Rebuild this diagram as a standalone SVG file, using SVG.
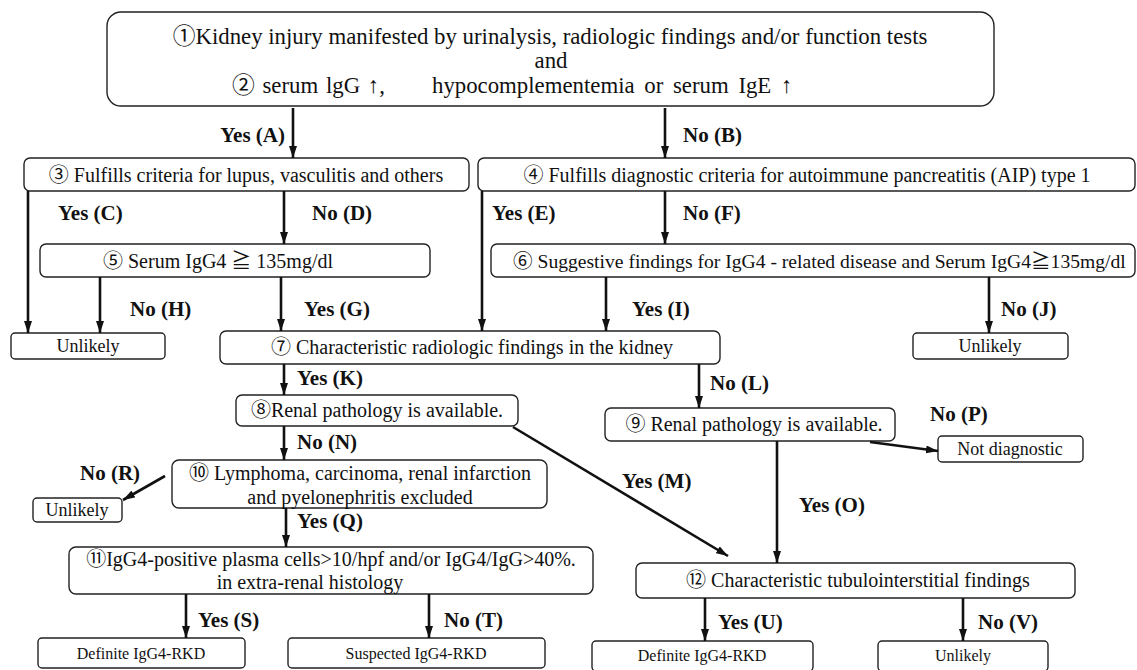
<svg xmlns="http://www.w3.org/2000/svg" width="1137" height="670" viewBox="0 0 1137 670">
<defs>
<style>
.box{fill:#fff;stroke:#222;stroke-width:1.4}
.t{font-family:"Liberation Serif","Noto Sans CJK JP",serif;font-size:20px;fill:#111}
.c{text-anchor:middle}
.big{font-size:22.8px}
.s18{font-size:18px}
.s16{font-size:16px}
.lbl{font-family:"Liberation Serif",serif;font-size:21px;font-weight:bold;fill:#111}
.ln{stroke:#111;stroke-width:2.6;fill:none;marker-end:url(#ah)}
</style>
<marker id="ah" viewBox="0 0 12 8" markerWidth="12" markerHeight="8" refX="12" refY="4" orient="auto" markerUnits="userSpaceOnUse">
<path d="M0,0 L12,4 L0,8 z" fill="#111"/>
</marker>
</defs>
<rect width="1137" height="670" fill="#fff"/>

<g id="n1">
<rect class="box" x="107" y="12" width="887" height="94" rx="14"/>
<text class="t c big" x="550" y="44">①Kidney injury manifested by urinalysis, radiologic findings and/or function tests</text>
<text class="t c big" x="551" y="68">and</text>
<text class="t big" y="93"><tspan x="232" word-spacing="2">② serum lgG ↑,</tspan><tspan x="432" word-spacing="4">hypocomplementemia or serum IgE ↑</tspan></text>
</g>
<g id="n3">
<rect class="box" x="24" y="158" width="445" height="33" rx="6"/>
<text class="t c" x="246" y="182">③ Fulfills criteria for lupus, vasculitis and others</text>
</g>
<g id="n4">
<rect class="box" x="478" y="158" width="657" height="33" rx="6"/>
<text class="t c" x="807" y="182">④ Fulfills diagnostic criteria for autoimmune pancreatitis (AIP) type 1</text>
</g>
<g id="n5">
<rect class="box" x="40" y="244" width="390" height="33" rx="6"/>
<text class="t c" x="218" y="268">⑤ Serum IgG4 ≧ 135mg/dl</text>
</g>
<g id="n6">
<rect class="box" x="491" y="244" width="644" height="33" rx="6"/>
<text class="t" x="513" y="268" style="font-size:19.6px">⑥ Suggestive findings for IgG4 - related disease and Serum IgG4≧135mg/dl</text>
</g>
<g id="unlikely1">
<rect class="box" x="11" y="333" width="154" height="26" rx="4"/>
<text class="t c s18" x="88" y="352">Unlikely</text>
</g>
<g id="n7">
<rect class="box" x="220" y="331" width="500" height="33" rx="6"/>
<text class="t c" x="472" y="354">⑦ Characteristic radiologic findings in the kidney</text>
</g>
<g id="unlikely2">
<rect class="box" x="913" y="333" width="155" height="26" rx="4"/>
<text class="t c s18" x="990" y="352">Unlikely</text>
</g>
<g id="n8">
<rect class="box" x="236" y="395" width="282" height="31" rx="6"/>
<text class="t c" x="377" y="417">⑧Renal pathology is available.</text>
</g>
<g id="n9">
<rect class="box" x="605" y="408" width="290" height="33" rx="6"/>
<text class="t c" x="754" y="431">⑨ Renal pathology is available.</text>
</g>
<g id="notdiag">
<rect class="box" x="938" y="436" width="145" height="26" rx="4"/>
<text class="t c s18" x="1010" y="455">Not diagnostic</text>
</g>
<g id="n10">
<rect class="box" x="172" y="460" width="375" height="48" rx="7"/>
<text class="t c" x="360" y="480">⑩ Lymphoma, carcinoma, renal infarction</text>
<text class="t c" x="360" y="504">and pyelonephritis excluded</text>
</g>
<g id="unlikely3">
<rect class="box" x="33" y="498" width="89" height="24" rx="4"/>
<text class="t c s18" x="77" y="516">Unlikely</text>
</g>
<g id="n11">
<rect class="box" x="69" y="547" width="524" height="47" rx="7"/>
<text class="t c" x="331" y="566">⑪IgG4-positive plasma cells&gt;10/hpf and/or IgG4/IgG&gt;40%.</text>
<text class="t c" x="310" y="589">in extra-renal histology</text>
</g>
<g id="n12">
<rect class="box" x="636" y="563" width="439" height="35" rx="6"/>
<text class="t c" x="858" y="587">⑫ Characteristic tubulointerstitial findings</text>
</g>
<g id="definite1">
<rect class="box" x="38" y="638" width="207" height="30" rx="4"/>
<text class="t c s16" x="141" y="659">Definite IgG4-RKD</text>
</g>
<g id="suspected">
<rect class="box" x="288" y="638" width="257" height="30" rx="4"/>
<text class="t c s16" x="416" y="659">Suspected IgG4-RKD</text>
</g>
<g id="definite2">
<rect class="box" x="592" y="641" width="221" height="30" rx="4"/>
<text class="t c s16" x="702" y="661">Definite IgG4-RKD</text>
</g>
<g id="unlikely4">
<rect class="box" x="878" y="641" width="170" height="30" rx="4"/>
<text class="t c s16" x="963" y="661">Unlikely</text>
</g>

<g id="connectors">
<line class="ln" x1="293" y1="108" x2="293" y2="158"/>
<text class="lbl" x="285" y="142" text-anchor="end">Yes (A)</text>
<line class="ln" x1="665" y1="108" x2="665" y2="158"/>
<text class="lbl" x="683" y="142">No (B)</text>
<line class="ln" x1="28" y1="191" x2="28" y2="333"/>
<text class="lbl" x="58" y="220">Yes (C)</text>
<line class="ln" x1="284" y1="191" x2="284" y2="244"/>
<text class="lbl" x="312" y="220">No (D)</text>
<line class="ln" x1="482" y1="191" x2="482" y2="331"/>
<text class="lbl" x="492" y="220">Yes (E)</text>
<line class="ln" x1="665" y1="191" x2="665" y2="244"/>
<text class="lbl" x="683" y="220">No (F)</text>
<line class="ln" x1="100" y1="277" x2="100" y2="333"/>
<text class="lbl" x="130" y="316">No (H)</text>
<line class="ln" x1="281" y1="277" x2="281" y2="331"/>
<text class="lbl" x="304" y="316">Yes (G)</text>
<line class="ln" x1="606" y1="277" x2="606" y2="331"/>
<text class="lbl" x="632" y="316">Yes (I)</text>
<line class="ln" x1="989" y1="277" x2="989" y2="333"/>
<text class="lbl" x="1001" y="316">No (J)</text>
<line class="ln" x1="284" y1="364" x2="284" y2="395"/>
<text class="lbl" x="297" y="385">Yes (K)</text>
<line class="ln" x1="699" y1="364" x2="699" y2="408"/>
<text class="lbl" x="710" y="390">No (L)</text>
<line class="ln" x1="284" y1="426" x2="284" y2="460"/>
<text class="lbl" x="297" y="449">No (N)</text>
<line class="ln" x1="513" y1="427" x2="728" y2="556"/>
<text class="lbl" x="622" y="488">Yes (M)</text>
<line class="ln" x1="870" y1="442" x2="938" y2="451"/>
<text class="lbl" x="930" y="421">No (P)</text>
<line class="ln" x1="777" y1="441" x2="777" y2="563"/>
<text class="lbl" x="799" y="512">Yes (O)</text>
<line class="ln" x1="165" y1="476" x2="123" y2="500"/>
<text class="lbl" x="80" y="480">No (R)</text>
<line class="ln" x1="286" y1="508" x2="286" y2="547"/>
<text class="lbl" x="297" y="528">Yes (Q)</text>
<line class="ln" x1="186" y1="594" x2="186" y2="638"/>
<text class="lbl" x="198" y="627">Yes (S)</text>
<line class="ln" x1="429" y1="594" x2="429" y2="638"/>
<text class="lbl" x="444" y="627">No (T)</text>
<line class="ln" x1="705" y1="598" x2="705" y2="641"/>
<text class="lbl" x="718" y="629">Yes (U)</text>
<line class="ln" x1="963" y1="598" x2="963" y2="641"/>
<text class="lbl" x="978" y="629">No (V)</text>
</g>
</svg>
